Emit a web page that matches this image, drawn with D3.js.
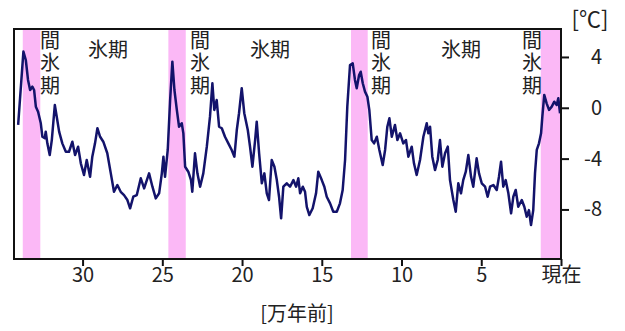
<!DOCTYPE html>
<html><head><meta charset="utf-8">
<script src="https://cdn.jsdelivr.net/npm/d3@7"></script>
<style>
html,body{margin:0;padding:0;background:#fff;}
text{font-family:"Noto Sans CJK JP","Noto Sans",sans-serif;fill:#222;}
</style></head>
<body>
<svg id="chart" width="625" height="331"></svg>
<script>
// age in 10,000 years before present
const ages = [34.04,33.71,33.56,33.42,33.29,33.15,33.04,32.93,32.79,32.62,32.52,32.37,32.31,32.21,32.06,31.93,31.74,31.62,31.47,31.27,31.05,30.85,30.64,30.47,30.28,30.11,29.91,29.74,29.53,29.39,29.22,29.07,28.90,28.70,28.45,28.23,28.03,27.82,27.61,27.40,27.19,27.02,26.82,26.60,26.35,26.14,25.83,25.62,25.41,25.20,25.03,24.93,24.83,24.66,24.51,24.37,24.24,24.09,23.95,23.78,23.68,23.57,23.37,23.20,23.12,22.95,22.80,22.63,22.43,22.21,22.01,21.86,21.74,21.59,21.44,21.27,21.07,20.86,20.65,20.48,20.33,20.19,20.02,19.86,19.64,19.50,19.35,19.18,19.08,18.93,18.76,18.60,18.45,18.31,18.14,17.97,17.82,17.68,17.55,17.41,17.20,16.99,16.78,16.61,16.47,16.36,16.19,16.05,15.94,15.78,15.57,15.36,15.22,15.00,14.84,14.69,14.48,14.28,14.06,13.86,13.69,13.54,13.40,13.23,13.06,12.92,12.81,12.66,12.56,12.43,12.29,12.14,12.02,11.87,11.72,11.55,11.39,11.18,11.03,10.89,10.76,10.61,10.41,10.26,10.09,9.89,9.72,9.57,9.36,9.22,9.05,8.84,8.63,8.42,8.32,8.21,8.07,7.90,7.73,7.59,7.44,7.27,7.10,6.96,6.75,6.60,6.44,6.27,6.13,5.97,5.81,5.64,5.50,5.29,5.14,4.97,4.76,4.60,4.45,4.24,4.03,3.89,3.76,3.62,3.47,3.30,3.13,2.99,2.84,2.68,2.46,2.30,2.15,2.01,1.88,1.74,1.63,1.52,1.38,1.25,1.17,1.05,0.90,0.75,0.58,0.42,0.27,0.17,0.06];
// temperature anomaly in °C
const temps = [-1.35,4.42,3.76,2.19,1.40,1.66,1.40,0.09,-0.31,-1.22,-2.28,-2.40,-1.88,-2.80,-3.72,-2.54,0.22,-0.70,-1.88,-2.80,-3.46,-3.46,-2.67,-3.72,-3.06,-4.37,-5.29,-4.11,-5.43,-3.85,-2.80,-1.61,-2.28,-2.67,-3.58,-5.16,-6.61,-6.08,-6.61,-6.87,-7.26,-7.91,-7.00,-6.87,-5.55,-6.34,-5.16,-6.21,-7.13,-6.73,-5.16,-3.85,-5.43,-3.32,0.61,3.63,1.40,-0.17,-1.49,-1.22,-2.01,-4.64,-5.03,-5.69,-6.61,-3.58,-5.16,-6.21,-5.16,-3.06,-0.70,1.93,-0.17,0.61,-1.49,-1.61,-2.28,-2.80,-3.32,-3.85,-1.75,-0.43,1.54,-0.43,-1.75,-3.06,-4.64,-2.54,-1.09,-3.58,-5.94,-5.16,-6.73,-7.26,-4.11,-4.64,-5.69,-7.00,-8.70,-6.21,-5.94,-6.21,-5.69,-6.21,-5.55,-6.73,-6.21,-6.61,-7.79,-8.44,-7.91,-6.73,-5.03,-5.69,-6.21,-7.00,-7.52,-8.18,-8.18,-7.52,-6.47,-4.11,0.09,3.37,3.50,2.19,1.54,2.58,2.84,1.93,1.27,0.87,-0.17,-2.54,-2.80,-2.28,-3.32,-4.50,-3.32,-1.49,-0.83,-2.28,-1.35,-2.54,-2.01,-2.80,-2.54,-3.85,-3.06,-4.37,-5.29,-4.11,-2.28,-1.22,-2.01,-1.49,-3.85,-4.90,-4.11,-2.54,-4.64,-3.58,-3.06,-5.69,-7.26,-8.18,-5.94,-6.73,-5.69,-5.03,-3.72,-5.43,-6.21,-3.98,-5.16,-5.94,-6.21,-7.00,-6.21,-6.08,-6.47,-5.43,-4.24,-6.21,-5.69,-6.73,-8.31,-7.00,-6.47,-7.79,-7.26,-7.79,-8.57,-8.05,-9.23,-8.05,-5.16,-3.32,-2.80,-2.01,-0.70,1.01,0.35,-0.17,0.09,0.48,0.22,0.75,-0.43];

const bandStart = [33.75, 24.62, 13.17, 1.27];
const bandEnd   = [32.65, 23.53, 12.12, 0.0];

const xTicks = [30, 25, 20, 15, 10, 5, 0];
const xTickLabels = ["30", "25", "20", "15", "10", "5", "現在"];
const yTicks = [4, 0, -4, -8];

const interLabelAges = [32.04, 22.63, 11.29, 1.82];
const glacialLabelAges = [28.4, 18.24, 6.27];

const svg = d3.select("#chart");
const L = 14, R = 561, T = 29, B = 259;
const x = d3.scaleLinear().domain([34.3, 0]).range([L, R]);
const y = d3.scaleLinear().domain([-11.9, 6.2]).range([B, T]);
const FONT = "'Noto Sans CJK JP','Noto Sans',sans-serif";

// bands
svg.append("g").selectAll("rect").data(bandStart).join("rect")
  .attr("x", (d,i) => x(d))
  .attr("y", T)
  .attr("width", (d,i) => x(bandEnd[i]) - x(d))
  .attr("height", B - T)
  .attr("fill", "#fbb8f6");

// line
const pts = ages.map((a,i) => [a, temps[i]]);
svg.append("path")
  .datum(pts)
  .attr("d", d3.line().x(d => x(d[0])).y(d => y(d[1])))
  .attr("fill", "none")
  .attr("stroke", "#13136b")
  .attr("stroke-width", 2.5)
  .attr("stroke-linejoin", "round");

// frame
svg.append("rect").attr("x", L).attr("y", T).attr("width", R - L).attr("height", B - T)
  .attr("fill", "none").attr("stroke", "#111").attr("stroke-width", 2);

// bottom axis
const xAxis = d3.axisBottom(x).tickValues(xTicks)
  .tickFormat((d,i) => xTickLabels[i]).tickSizeInner(7).tickSizeOuter(0).tickPadding(2);
const gx = svg.append("g").attr("transform", `translate(0,${B})`).call(xAxis);
gx.select(".domain").remove();
gx.selectAll("line").attr("stroke", "#111").attr("stroke-width", 2);
gx.selectAll("text").attr("font-size", 20).attr("fill", "#222").attr("font-family", FONT);

// right axis
const yAxis = d3.axisRight(y).tickValues(yTicks).tickSizeInner(8).tickSizeOuter(0).tickPadding(4)
  .tickFormat(d => d < 0 ? "-" + Math.abs(d) : String(d));
const gy = svg.append("g").attr("transform", `translate(${R},0)`).call(yAxis);
gy.select(".domain").remove();
gy.selectAll("line").attr("stroke", "#111").attr("stroke-width", 2);
gy.selectAll("text").attr("font-size", 20).attr("fill", "#222")
  .attr("text-anchor", "end").attr("x", 41).attr("font-family", FONT);

// axis titles
svg.append("text").attr("x", 590).attr("y", 27).attr("text-anchor", "middle")
  .attr("font-size", 22).text("[℃]");
svg.append("text").attr("x", 297).attr("y", 321).attr("text-anchor", "middle")
  .attr("font-size", 20).text("[万年前]");

// period labels (vertical)
interLabelAges.forEach(a => {
  svg.append("text")
    .attr("x", x(a)).attr("y", 30)
    .attr("font-size", 20)
    .style("writing-mode", "vertical-rl")
    .style("text-orientation", "upright")
    .attr("letter-spacing", 2.5)
    .text("間氷期");
});
glacialLabelAges.forEach(a => {
  svg.append("text").attr("x", x(a)).attr("y", 57)
    .attr("text-anchor", "middle").attr("font-size", 20).text("氷期");
});
</script>
</body></html>
